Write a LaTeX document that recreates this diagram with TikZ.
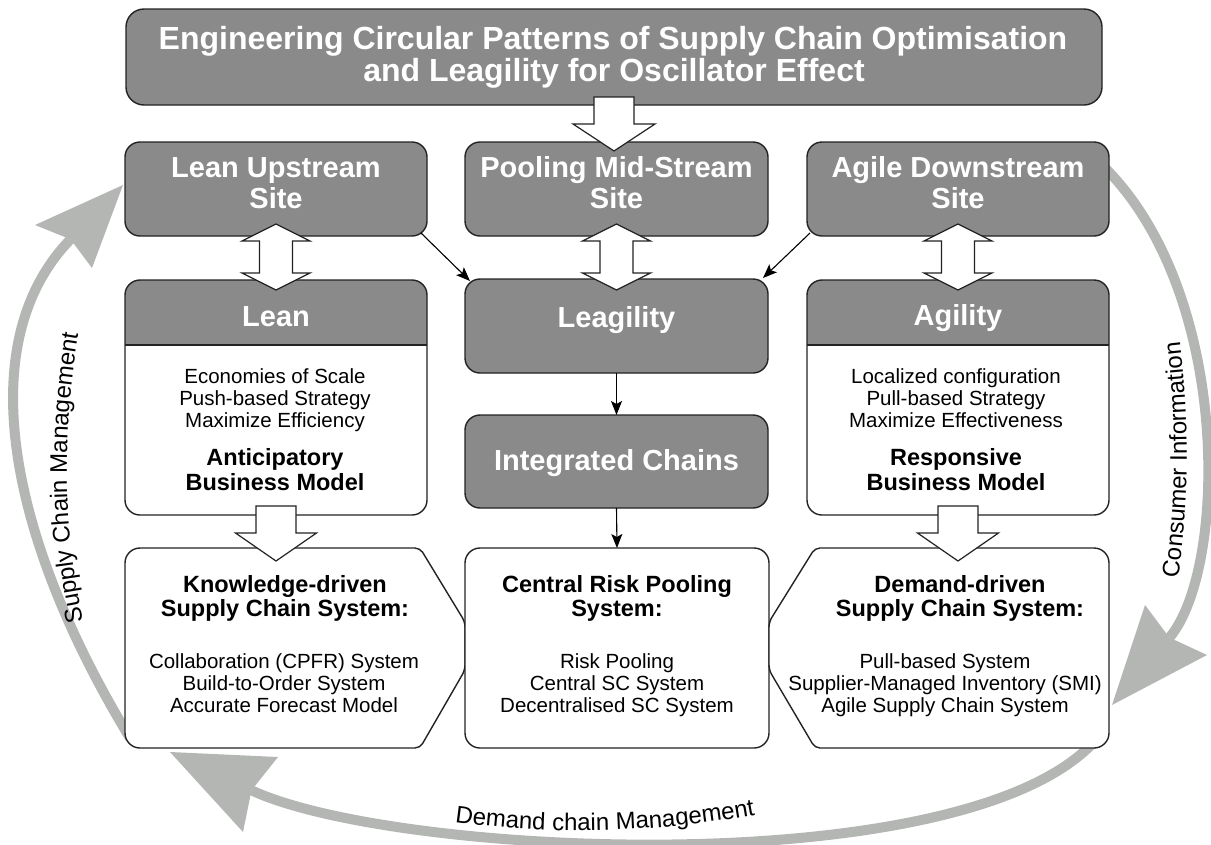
\documentclass[tikz,border=0pt]{standalone}
\usepackage{fontspec}
\setmainfont{Liberation Sans}
\usetikzlibrary{arrows.meta,decorations.text}
\definecolor{boxgray}{RGB}{138,138,138}
\definecolor{arcgray}{RGB}{180,182,180}
\definecolor{edgec}{RGB}{35,35,35}
\tikzset{
 gbox/.style={draw=edgec, line width=1.4pt, fill=boxgray, rounded corners=15pt, inner sep=0pt, outer sep=0pt},
 wbox/.style={gbox, fill=white},
 obox/.style={draw=edgec, line width=1.4pt, rounded corners=15pt, inner sep=0pt, outer sep=0pt},
 ttl/.style={font=\fontsize{32}{34}\selectfont\bfseries, text=white, inner sep=0pt, anchor=base},
 hdr/.style={font=\fontsize{29}{30}\selectfont\bfseries, text=white, inner sep=0pt, anchor=base},
 bodytxt/.style={font=\fontsize{20.5}{22}\selectfont, inner sep=0pt, anchor=base},
 boldtxt/.style={font=\fontsize{23.5}{25}\selectfont\bfseries, inner sep=0pt, anchor=base},
 blockarrow/.style={draw=edgec, line width=1.2pt, fill=white, line join=miter},
 thinarrow/.style={draw=black, line width=1.1pt, -{Stealth[length=14pt,width=11pt,inset=3pt]}},
 bigarc/.style={draw=arcgray, line width=10pt},
 arctip/.style={fill=arcgray},
 sepline/.style={draw=edgec, line width=1.4pt},
}
\newcommand\arcfont{\fontsize{24}{24}\selectfont}
\begin{document}
\begin{tikzpicture}[x=1pt,y=1pt]
\useasboundingbox (0,0) rectangle (1211,-844);

% ---------- big grey arcs ----------
\draw[bigarc] (130,-738) .. controls (15,-549) and (-34,-347) .. (70.5,-239.3);
\fill[arctip] (123,-185) -- (35,-225) -- (70.5,-239.3) -- (92,-268) -- cycle;
\draw[bigarc] (1100,-735) .. controls (980,-885) and (396,-858) .. (251.5,-790.3);
\fill[arctip] (170,-752) -- (278,-757) -- (251.5,-790.3) -- (243,-832) -- cycle;
\draw[bigarc] (1100,-163) .. controls (1232,-288) and (1228,-568) .. (1169.5,-637.6);
\fill[arctip] (1112,-705) -- (1145,-605) -- (1169.5,-637.6) -- (1207,-655) -- cycle;

\path[decorate, decoration={text along path, text align=center, text={|\arcfont|Supply Chain Management}}]
  (88,-640) .. controls (62,-540) and (60,-430) .. (82,-315);
\path[decorate, decoration={text along path, text align=center, text={|\arcfont|Consumer Information}}]
  (1176,-595) .. controls (1190,-500) and (1190,-420) .. (1178,-325);
\path[decorate, decoration={text along path, text align=center, text={|\arcfont|Demand chain Management}}]
  (440,-820) .. controls (540,-836) and (660,-834) .. (770,-812);

% ---------- title ----------
\node[gbox, rounded corners=18pt, minimum width=976pt, minimum height=96pt] (title) at (614,-57) {};
\node[ttl] (t1) at (613,-49) {Engineering Circular Patterns of Supply Chain Optimisation};
\node[ttl] (t2) at (614,-81) {and Leagility for Oscillator Effect};

% ---------- row 2 ----------
\node[gbox, minimum width=302pt, minimum height=94pt] (lus) at (276,-189) {};
\node[hdr] (lus1) at (276,-177) {Lean Upstream};
\node[hdr] (lus2) at (276,-208) {Site};
\node[gbox, minimum width=303pt, minimum height=94pt] (pms) at (616.5,-189) {};
\node[hdr] (pms1) at (616.5,-177) {Pooling Mid-Stream};
\node[hdr] (pms2) at (616.5,-208) {Site};
\node[gbox, minimum width=302pt, minimum height=94pt] (ads) at (958,-189) {};
\node[hdr] (ads1) at (958,-177) {Agile Downstream};
\node[hdr] (ads2) at (958,-208) {Site};

% ---------- row 3 ----------
\fill[white, rounded corners=15pt] (125,-515) rectangle (427,-280);
\fill[boxgray] (125,-345) -- (125,-295) arc[start angle=180,end angle=90,radius=15] -- (412,-280) arc[start angle=90,end angle=0,radius=15] -- (427,-345) -- cycle;
\node[obox, minimum width=302pt, minimum height=235pt] (lean) at (276,-397.5) {};
\draw[sepline] (125,-345) -- (427,-345);
\node[hdr] (leanh) at (276,-326) {Lean};
\node[bodytxt] (lean1) at (275,-383) {Economies of Scale};
\node[bodytxt] (lean2) at (275,-405) {Push-based Strategy};
\node[bodytxt] (lean3) at (275,-427) {Maximize Efficiency};
\node[boldtxt] (lean4) at (275,-465) {Anticipatory};
\node[boldtxt] (lean5) at (275,-490) {Business Model};

\node[gbox, minimum width=303pt, minimum height=94pt] (leag) at (616.5,-326) {};
\node[hdr] (leagt) at (616.5,-327) {Leagility};
\node[gbox, minimum width=303pt, minimum height=93pt] (integ) at (616.5,-461.5) {};
\node[hdr] (integt) at (616.5,-470) {Integrated Chains};

\fill[white, rounded corners=15pt] (807,-515) rectangle (1109,-280);
\fill[boxgray] (807,-345) -- (807,-295) arc[start angle=180,end angle=90,radius=15] -- (1094,-280) arc[start angle=90,end angle=0,radius=15] -- (1109,-345) -- cycle;
\node[obox, minimum width=302pt, minimum height=235pt] (agil) at (958,-397.5) {};
\draw[sepline] (807,-345) -- (1109,-345);
\node[hdr] (agilh) at (958,-325) {Agility};
\node[bodytxt] (agil1) at (956,-383) {Localized configuration};
\node[bodytxt] (agil2) at (956,-405) {Pull-based Strategy};
\node[bodytxt] (agil3) at (956,-427) {Maximize Effectiveness};
\node[boldtxt] (agil4) at (956,-465) {Responsive};
\node[boldtxt] (agil5) at (956,-490) {Business Model};

% ---------- row 4 ----------
\filldraw[fill=white, draw=edgec, line width=1.4pt] (270,-548) [rounded corners=15pt] -- (125,-548) -- (125,-748) -- (270,-748) [rounded corners=5pt] -- (420,-748) -- (465,-670) -- (465,-622) -- (420,-548) -- cycle;
\coordinate (know) at (295,-648);
\node[boldtxt] (know1) at (285,-592) {Knowledge-driven};
\node[boldtxt] (know2) at (285,-616) {Supply Chain System:};
\node[bodytxt] (know3) at (284,-668) {Collaboration (CPFR) System};
\node[bodytxt] (know4) at (284,-690) {Build-to-Order System};
\node[bodytxt] (know5) at (284,-712) {Accurate Forecast Model};

\node[wbox, minimum width=304pt, minimum height=200pt] (cent) at (617,-648) {};
\node[boldtxt] (cent1) at (617,-592) {Central Risk Pooling};
\node[boldtxt] (cent2) at (617,-616) {System:};
\node[bodytxt] (cent3) at (617,-668) {Risk Pooling};
\node[bodytxt] (cent4) at (617,-690) {Central SC System};
\node[bodytxt] (cent5) at (617,-712) {Decentralised SC System};

\filldraw[fill=white, draw=edgec, line width=1.4pt] (960,-548) [rounded corners=15pt] -- (1109,-548) -- (1109,-748) -- (960,-748) [rounded corners=5pt] -- (815,-748) -- (769,-670) -- (769,-622) -- (815,-548) -- cycle;
\coordinate (dem) at (939,-648);
\node[boldtxt] (dem1) at (960,-592) {Demand-driven};
\node[boldtxt] (dem2) at (960,-616) {Supply Chain System:};
\node[bodytxt] (dem3) at (945,-668) {Pull-based System};
\node[bodytxt] (dem4) at (945,-690) {Supplier-Managed Inventory (SMI)};
\node[bodytxt] (dem5) at (945,-712) {Agile Supply Chain System};

% ---------- block arrows ----------
\draw[blockarrow] (594,-97) -- (634,-97) -- (634,-124) -- (655,-124) -- (614,-151) -- (573,-124) -- (594,-124) -- cycle;
\foreach \c in {276,616.5,958}{
  \draw[blockarrow] (\c,-224) -- (\c+34,-241) -- (\c+16.5,-241) -- (\c+16.5,-273) -- (\c+34,-273) -- (\c,-290)
     -- (\c-34,-273) -- (\c-16.5,-273) -- (\c-16.5,-241) -- (\c-34,-241) -- cycle;
}
\foreach \c in {276,958}{
  \draw[blockarrow] (\c-20,-506) -- (\c+20,-506) -- (\c+20,-533) -- (\c+40.5,-533) -- (\c,-561) -- (\c-40.5,-533) -- (\c-20,-533) -- cycle;
}

% ---------- thin arrows ----------
\draw[thinarrow] ([shift={(-6,3)}]lus.south east) -- ([shift={(5,-2)}]leag.north west);
\draw[thinarrow] ([shift={(3,3)}]ads.south west) -- ([shift={(-5,1)}]leag.north east);
\draw[thinarrow] (leag.south) -- (integ.north);
\draw[thinarrow] (integ.south) -- (cent.north);
\end{tikzpicture}
\end{document}
